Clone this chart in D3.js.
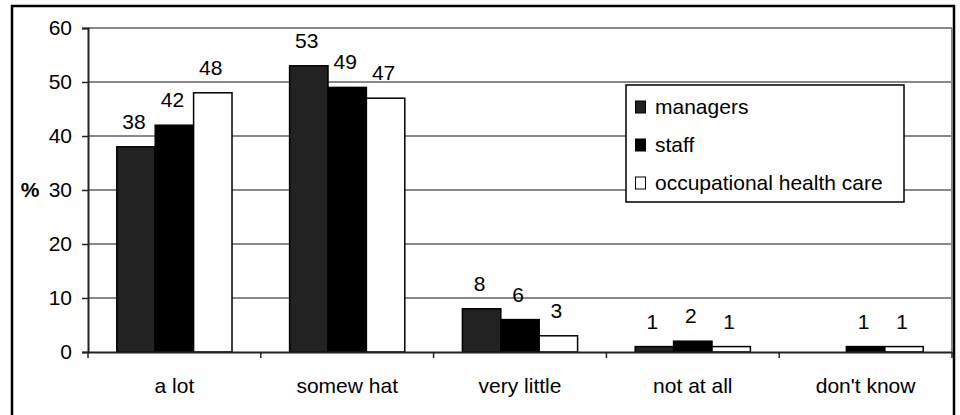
<!DOCTYPE html>
<html>
<head>
<meta charset="utf-8">
<script src="https://cdn.jsdelivr.net/npm/d3@7"></script>
<style>
  body { margin: 0; background: #fff; }
  text { font-family: "Liberation Sans", Arial, sans-serif; }
</style>
</head>
<body>
<svg id="chart" width="960" height="415"></svg>
<script>
const categories = ["a lot", "somew hat", "very little", "not at all", "don't know"];
const seriesNames = ["managers", "staff", "occupational health care"];
const managers = [38, 53, 8, 1, 0];
const staff = [42, 49, 6, 2, 1];
const ohc = [48, 47, 3, 1, 1];
const yTicks = [0, 10, 20, 30, 40, 50, 60];

const colors = ["#222222", "#000000", "#ffffff"];
const series = [managers, staff, ohc];

const svg = d3.select("#chart");
const fontSize = 21;

// outer frame
svg.append("rect")
  .attr("x", 12).attr("y", 6)
  .attr("width", 942).attr("height", 420)
  .attr("fill", "#fff")
  .attr("stroke", "#000")
  .attr("stroke-width", 2.5);

const plotL = 88, plotR = 952, plotT = 28, plotB = 352;

const x = d3.scaleBand().domain(categories).range([plotL, plotR]);
const y = d3.scaleLinear().domain([0, 60]).range([plotB, plotT]);

// bars inside band: 4.5 bar widths per band
const bw = x.bandwidth() / 4.5;
const x1 = d3.scaleBand().domain(d3.range(3)).range([bw * 0.75, bw * 3.75]).padding(0);

// gridlines
svg.append("g")
  .selectAll("line")
  .data(yTicks.filter(d => d > 0))
  .join("line")
  .attr("x1", plotL).attr("x2", plotR)
  .attr("y1", d => y(d)).attr("y2", d => y(d))
  .attr("stroke", "#888")
  .attr("stroke-width", 2);

// plot area right border
svg.append("line")
  .attr("x1", plotR).attr("x2", plotR)
  .attr("y1", plotT).attr("y2", plotB)
  .attr("stroke", "#888")
  .attr("stroke-width", 2);

// bars
const groups = svg.append("g")
  .selectAll("g")
  .data(series)
  .join("g")
  .attr("fill", (d, i) => colors[i]);

groups.selectAll("rect")
  .data((d, i) => d.map((v, j) => ({ v, cat: categories[j], s: i })))
  .join("rect")
  .attr("x", d => x(d.cat) + x1(d.s))
  .attr("y", d => y(d.v))
  .attr("width", x1.bandwidth())
  .attr("height", d => plotB - y(d.v))
  .attr("stroke", "#000")
  .attr("stroke-width", d => d.v > 0 ? 1.5 : 0);

// data labels
groups.selectAll("text")
  .data((d, i) => d.map((v, j) => ({ v, cat: categories[j], s: i })).filter(d => d.v > 0))
  .join("text")
  .attr("x", d => x(d.cat) + x1(d.s) + x1.bandwidth() / 2 - 2)
  .attr("y", d => y(d.v) - 18)
  .attr("text-anchor", "middle")
  .attr("font-size", fontSize)
  .attr("fill", "#000")
  .text(d => d.v);

// y axis
const yAxis = svg.append("g")
  .attr("transform", `translate(${plotL},0)`)
  .call(d3.axisLeft(y).tickValues(yTicks).tickSize(6).tickPadding(10));
yAxis.select(".domain").attr("stroke", "#222").attr("stroke-width", 2);
yAxis.selectAll(".tick line").attr("stroke", "#222").attr("stroke-width", 1.5);
yAxis.selectAll(".tick text")
  .attr("font-size", fontSize)
  .attr("font-family", "Liberation Sans, Arial, sans-serif")
  .attr("fill", "#000");

// x axis
const xAxis = svg.append("g")
  .attr("transform", `translate(0,${plotB})`)
  .call(d3.axisBottom(x).tickSize(0).tickPadding(26));
xAxis.select(".domain").attr("stroke", "#222").attr("stroke-width", 2);
xAxis.selectAll(".tick text")
  .attr("font-size", fontSize)
  .attr("font-family", "Liberation Sans, Arial, sans-serif")
  .attr("fill", "#000");

// x ticks at band boundaries
svg.append("g")
  .selectAll("line")
  .data(categories.map(c => x(c)).concat([plotR]))
  .join("line")
  .attr("x1", d => d).attr("x2", d => d)
  .attr("y1", plotB).attr("y2", plotB + 6)
  .attr("stroke", "#222")
  .attr("stroke-width", 1.5);

// y axis title
svg.append("text")
  .attr("x", 30).attr("y", y(30))
  .attr("dy", "0.35em")
  .attr("text-anchor", "middle")
  .attr("font-size", fontSize)
  .attr("font-weight", "bold")
  .text("%");

// legend
const lg = svg.append("g").attr("transform", "translate(626,85)");
lg.append("rect")
  .attr("width", 278).attr("height", 117)
  .attr("fill", "#fff")
  .attr("stroke", "#000")
  .attr("stroke-width", 1.5);
const items = lg.selectAll("g.item")
  .data(seriesNames)
  .join("g")
  .attr("class", "item")
  .attr("transform", (d, i) => `translate(0,${22 + i * 38})`);
items.append("rect")
  .attr("x", 9.5).attr("y", -6)
  .attr("width", 10).attr("height", 12)
  .attr("fill", (d, i) => colors[i])
  .attr("stroke", "#000")
  .attr("stroke-width", 1);
items.append("text")
  .attr("x", 29).attr("dy", "0.35em")
  .attr("font-size", fontSize)
  .text(d => d);
</script>
</body>
</html>
